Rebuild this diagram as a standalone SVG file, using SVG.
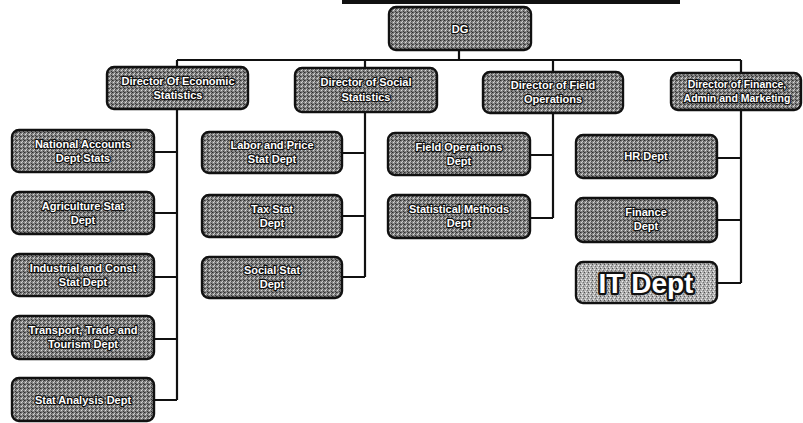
<svg xmlns="http://www.w3.org/2000/svg" width="803" height="423" viewBox="0 0 803 423">
<defs>
<pattern id="tex" width="4" height="4" patternUnits="userSpaceOnUse">
<rect width="4" height="4" fill="#858585"/>
<rect x="0" y="0" width="1" height="1" fill="#2e2e2e"/>
<rect x="2" y="1" width="1" height="1" fill="#d0d0d0"/>
<rect x="1" y="2" width="1" height="1" fill="#dadada"/>
<rect x="3" y="3" width="1" height="1" fill="#353535"/>
<rect x="3" y="1" width="1" height="1" fill="#505050"/>
<rect x="1" y="0" width="1" height="1" fill="#5c5c5c"/>
</pattern>
<pattern id="tex2" width="4" height="4" patternUnits="userSpaceOnUse">
<rect width="4" height="4" fill="#b0b0b0"/>
<rect x="0" y="0" width="1" height="1" fill="#505050"/>
<rect x="2" y="1" width="1" height="1" fill="#f0f0f0"/>
<rect x="1" y="3" width="1" height="1" fill="#ececec"/>
<rect x="3" y="2" width="1" height="1" fill="#707070"/>
</pattern>
</defs>
<style>
.box{fill:url(#tex);stroke:#111;stroke-width:2.4}
.itbox{fill:url(#tex2);stroke:#111;stroke-width:2.4}
.t{font-family:"Liberation Sans",Arial,sans-serif;font-size:11px;font-weight:bold;fill:#fff;stroke:#111;stroke-width:2.4;paint-order:stroke;stroke-linejoin:round;text-anchor:middle}
.s{font-size:10.5px}
.big{font-family:"Liberation Sans",Arial,sans-serif;font-size:28px;font-weight:bold;fill:#fff;stroke:#111;stroke-width:4.5;paint-order:stroke;stroke-linejoin:round;text-anchor:middle}
.c{fill:none;stroke:#111;stroke-width:2.2}
</style>
<rect x="342" y="0" width="338" height="4" fill="#111"/>
<g id="connectors">
<path class="c" d="M459 50V60M177 60H741M177 60V400M365 60V68M553 60V72M741 60V73"/>
<path class="c" d="M154 152H177M154 213H177M154 277H177M154 339H177M154 400H177"/>
<path class="c" d="M365 112V277M342 153H365M342 216H365M342 277H365"/>
<path class="c" d="M553 113V218M530 155H553M530 218H553"/>
<path class="c" d="M741 110V283M717 158H741M717 220H741M717 283H741"/>
</g>
<g id="dg"><rect class="box" x="389" y="7" width="142" height="43" rx="7"/><text class="t" x="460" y="33">DG</text></g>
<g id="dir-econ"><rect class="box" x="107" y="67" width="141" height="42" rx="7"/><text class="t" x="178" y="85">Director Of Economic</text><text class="t" x="178" y="99">Statistics</text></g>
<g id="dir-social"><rect class="box" x="295" y="68" width="142" height="44" rx="7"/><text class="t" x="366" y="86">Director of Social</text><text class="t" x="366" y="101">Statistics</text></g>
<g id="dir-field"><rect class="box" x="483" y="72" width="140" height="41" rx="7"/><text class="t" x="553" y="89">Director of  Field</text><text class="t" x="553" y="103">Operations</text></g>
<g id="dir-finance"><rect class="box" x="671" y="73" width="130" height="37" rx="7"/><text class="t s" x="737" y="88">Director of Finance,</text><text class="t s" x="737" y="102">Admin and Marketing</text></g>
<g id="national"><rect class="box" x="12" y="130" width="142" height="42" rx="7"/><text class="t" x="83" y="148">National Accounts</text><text class="t" x="83" y="162">Dept Stats</text></g>
<g id="agri"><rect class="box" x="12" y="192" width="142" height="42" rx="7"/><text class="t" x="83" y="210">Agriculture Stat</text><text class="t" x="83" y="224">Dept</text></g>
<g id="industrial"><rect class="box" x="12" y="254" width="142" height="42" rx="7"/><text class="t" x="83" y="272">Industrial and Const</text><text class="t" x="83" y="286">Stat Dept</text></g>
<g id="transport"><rect class="box" x="12" y="316" width="142" height="43" rx="7"/><text class="t" x="83" y="334">Transport, Trade and</text><text class="t" x="83" y="348">Tourism Dept</text></g>
<g id="analysis"><rect class="box" x="12" y="378" width="142" height="43" rx="7"/><text class="t" x="83" y="404">Stat Analysis Dept</text></g>
<g id="labor"><rect class="box" x="202" y="132" width="140" height="41" rx="7"/><text class="t" x="272" y="149">Labor and Price</text><text class="t" x="272" y="163">Stat Dept</text></g>
<g id="tax"><rect class="box" x="202" y="195" width="140" height="42" rx="7"/><text class="t" x="272" y="213">Tax Stat</text><text class="t" x="272" y="227">Dept</text></g>
<g id="socialstat"><rect class="box" x="202" y="257" width="140" height="41" rx="7"/><text class="t" x="272" y="274">Social Stat</text><text class="t" x="272" y="288">Dept</text></g>
<g id="fieldops"><rect class="box" x="388" y="133" width="142" height="42" rx="7"/><text class="t" x="459" y="151">Field Operations</text><text class="t" x="459" y="165">Dept</text></g>
<g id="methods"><rect class="box" x="388" y="195" width="142" height="43" rx="7"/><text class="t" x="459" y="213">Statistical Methods</text><text class="t" x="459" y="227">Dept</text></g>
<g id="hr"><rect class="box" x="576" y="135" width="141" height="43" rx="7"/><text class="t" x="646" y="160">HR Dept</text></g>
<g id="finance"><rect class="box" x="576" y="198" width="141" height="44" rx="7"/><text class="t" x="646" y="216">Finance</text><text class="t" x="646" y="230">Dept</text></g>
<g id="it"><rect class="itbox" x="576" y="262" width="141" height="41" rx="7"/><text class="big" x="646" y="293">IT Dept</text></g>
</svg>
